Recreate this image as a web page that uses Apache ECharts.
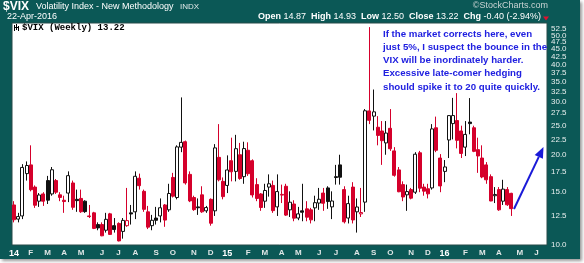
<!DOCTYPE html>
<html><head><meta charset="utf-8">
<script src="https://cdn.jsdelivr.net/npm/echarts@6/dist/echarts.min.js"></script>
<style>
html,body{margin:0;padding:0;background:#fff;}
#wrap{position:relative;width:584px;height:263px;overflow:hidden;background:#fff;}
#bg{position:absolute;left:0;top:0;width:580px;height:259px;background:#0b5856;box-shadow:2px 2px 3px #999;}
#c{position:absolute;left:0;top:0;width:584px;height:263px;}
</style></head><body>
<div id="wrap"><div id="bg"></div><div id="c"></div></div>
<script>
const weeks = [
'2014-01-10','2014-01-17','2014-01-24','2014-01-31','2014-02-07','2014-02-14','2014-02-21','2014-02-28',
'2014-03-07','2014-03-14','2014-03-21','2014-03-28','2014-04-04','2014-04-11','2014-04-18','2014-04-25',
'2014-05-02','2014-05-09','2014-05-16','2014-05-23','2014-05-30','2014-06-06','2014-06-13','2014-06-20','2014-06-27',
'2014-07-04','2014-07-11','2014-07-18','2014-07-25','2014-08-01','2014-08-08','2014-08-15','2014-08-22','2014-08-29',
'2014-09-05','2014-09-12','2014-09-19','2014-09-26','2014-10-03','2014-10-10','2014-10-17','2014-10-24','2014-10-31',
'2014-11-07','2014-11-14','2014-11-21','2014-11-28','2014-12-05','2014-12-12','2014-12-19','2014-12-26',
'2015-01-02','2015-01-09','2015-01-16','2015-01-23','2015-01-30','2015-02-06','2015-02-13','2015-02-20','2015-02-27',
'2015-03-06','2015-03-13','2015-03-20','2015-03-27','2015-04-03','2015-04-10','2015-04-17','2015-04-24',
'2015-05-01','2015-05-08','2015-05-15','2015-05-22','2015-05-29','2015-06-05','2015-06-12','2015-06-19','2015-06-26',
'2015-07-03','2015-07-10','2015-07-17','2015-07-24','2015-07-31','2015-08-07','2015-08-14','2015-08-21','2015-08-28',
'2015-09-04','2015-09-11','2015-09-18','2015-09-25','2015-10-02','2015-10-09','2015-10-16','2015-10-23','2015-10-30',
'2015-11-06','2015-11-13','2015-11-20','2015-11-27','2015-12-04','2015-12-11','2015-12-18','2015-12-25',
'2016-01-01','2016-01-08','2016-01-15','2016-01-22','2016-01-29','2016-02-05','2016-02-12','2016-02-19','2016-02-26',
'2016-03-04','2016-03-11','2016-03-18','2016-03-25','2016-04-01','2016-04-08','2016-04-15','2016-04-22',
'2016-04-29','2016-05-06','2016-05-13','2016-05-20','2016-05-27','2016-06-03','2016-06-10','2016-06-17'
];
const opens = [
13.6,12.2,12.5,17.3,18.5,15.6,14.0,14.8,16.4,14.8,
16.4,14.7,14.1,14.9,16.1,14.2,14.3,14.0,12.5,12.8,
11.7,11.7,11.2,12.7,11.6,11.8,11.1,11.6,12.8,12.9,
16.7,15.1,12.9,11.6,12.3,12.5,13.6,13.1,16.8,14.4,
21.2,22.1,17.2,14.4,13.4,14.7,13.0,14.2,13.0,19.6,
16.3,15.8,19.1,17.6,20.0,16.9,20.7,19.1,15.9,14.8,
14.0,15.6,15.8,13.4,14.75,15.7,13.1,13.7,12.3,13.0,
13.2,13.1,13.3,13.8,14.9,15.5,13.4,16.9,18.5,15.3,
12.3,15.6,12.9,12.7,13.9,28.0,26.9,24.7,24.0,21.9,
24.5,20.6,17.8,15.9,14.7,15.3,15.0,20.3,15.6,15.4,
15.5,24.6,19.5,17.6,22.4,25.4,26.0,24.0,21.2,25.7,
24.6,20.8,19.5,18.5,16.9,14.6,15.3,14.0,15.3,14.87
];
const highs = [
14.0,12.8,18.6,19.0,21.5,15.8,14.9,15.0,17.0,18.2,
16.6,15.0,14.6,17.6,16.4,15.3,15.3,14.1,13.6,12.9,
11.9,11.9,12.8,12.8,12.3,11.9,12.3,15.5,13.6,17.6,
17.3,15.3,13.5,12.6,13.4,14.3,13.7,16.0,17.4,21.5,
31.06,22.3,17.6,14.6,14.3,15.7,13.5,14.3,21.7,25.3,
16.8,19.9,22.8,23.3,21.9,22.1,22.0,19.3,16.7,14.9,
16.0,17.2,16.4,17.2,15.9,16.0,15.1,14.1,13.4,16.0,
14.0,13.3,14.6,15.5,15.5,15.7,15.1,18.5,20.0,15.7,
14.6,16.2,14.3,15.5,28.4,53.29,33.0,26.9,25.9,25.9,
28.4,21.2,18.2,16.3,15.9,15.5,20.4,20.6,16.0,16.0,
25.3,26.8,20.1,19.2,27.1,30.95,32.1,25.0,25.9,30.9,
25.0,22.8,21.5,18.9,17.2,15.6,15.6,16.5,15.6,14.93
];
const lows = [
11.9,11.9,12.2,16.4,15.1,13.3,13.4,13.5,13.7,14.6,
14.8,14.0,12.8,13.9,13.1,12.9,12.8,12.8,12.3,11.3,
11.2,10.7,11.0,10.8,11.0,10.28,10.5,11.5,11.7,12.2,
15.3,12.9,11.3,11.2,11.7,11.9,11.5,12.9,14.4,14.2,
20.4,15.9,13.9,13.0,12.6,12.8,12.8,11.6,12.5,16.3,
14.2,14.9,16.3,16.3,16.5,16.0,17.0,14.4,14.0,13.0,
13.3,14.5,12.8,12.5,13.8,12.5,12.4,12.0,12.1,12.0,
12.0,11.8,12.0,13.1,13.0,13.2,12.2,15.9,15.9,11.8,
11.8,11.8,11.0,12.4,12.9,25.3,24.1,21.5,18.5,20.0,
20.6,16.9,15.0,14.0,13.0,14.2,14.8,15.0,14.6,14.3,
15.3,20.4,15.0,16.2,19.5,22.5,21.0,19.5,19.8,23.4,
20.4,17.4,16.7,16.0,14.0,13.8,13.0,13.6,13.5,12.50
];
const closes = [
12.14,12.44,18.14,18.41,15.29,13.57,14.68,14.00,14.11,17.82,
15.00,14.41,13.96,17.03,13.36,14.06,12.91,12.92,12.44,11.36,
11.40,10.73,12.18,10.85,11.26,10.32,12.08,12.06,12.69,16.95,
15.77,13.15,11.47,12.09,12.09,13.31,12.11,14.85,14.55,21.24,
21.99,16.11,14.03,13.12,13.31,12.90,13.33,11.82,21.08,16.49,
14.50,17.79,17.55,20.95,16.66,20.97,17.29,14.69,14.30,13.34,
15.20,16.00,13.02,15.07,14.67,12.58,13.89,12.29,12.70,12.86,
12.38,12.13,13.84,14.21,13.78,13.96,14.02,16.79,16.83,11.95,
13.74,12.12,13.39,12.83,28.03,26.05,27.80,23.20,22.28,23.62,
20.94,17.08,15.05,14.46,15.07,14.33,20.08,15.47,15.12,14.81,
24.39,20.70,15.74,18.21,27.01,27.02,22.34,20.20,23.38,25.40,
20.53,19.81,16.86,16.50,14.02,14.74,13.10,15.36,13.62,13.22
];
const priorClose = 13.76;
const yTicks = [10,12.5,15,17.5,20,22.5,25,27.5,30,32.5,35,37.5,40,42.5,45,47.5,50,52.5,55];
const monthLetters = ['J','F','M','A','M','J','J','A','S','O','N','D'];
const annotationLines = [
'If the market corrects here, even',
'just 5%, I suspect the bounce in the',
'VIX will be inordinately harder.',
'Excessive late-comer hedging',
'should spike it to 20 quite quickly.'
];

const RED = '#d5002b', BLACK = '#111111';
const FONT = '"Liberation Sans", Arial, sans-serif';
const last = closes.length - 1;

const candleData = weeks.map(function (w, i) {
  if (i > last) return '-';
  const prev = i === 0 ? priorClose : closes[i - 1];
  const edge = closes[i] < prev ? RED : BLACK;
  const fill = closes[i] > opens[i] ? '#ffffff' : edge;
  return {
    value: [opens[i], closes[i], lows[i], highs[i]],
    itemStyle: { color: fill, color0: fill, borderColor: edge, borderColor0: edge, borderWidth: 1 }
  };
});

function monthOf(s) { return parseInt(s.slice(5, 7), 10) - 1; }
function isMonthStart(index, value) {
  if (index === 0) return true;
  return monthOf(weeks[index]) !== monthOf(weeks[index - 1]);
}
function labelFor(value, index) {
  const m = monthOf(value);
  if (m === 0) return '{y|' + value.slice(2, 4) + '}';
  return '{m|' + monthLetters[m] + '}';
}

const chg = closes[last] - closes[last - 1];
const chgPct = chg / closes[last - 1] * 100;

const chart = echarts.init(document.getElementById('c'), null, { renderer: 'canvas' });
const option = {
  animation: false,
  grid: { left: 12, right: 37, top: 23, bottom: 18, show: true, backgroundColor: '#ffffff', borderColor: '#274a49', borderWidth: 1 },
  xAxis: {
    type: 'category', data: weeks, boundaryGap: true,
    axisLine: { show: false }, axisTick: { show: false }, splitLine: { show: false },
    axisLabel: {
      interval: isMonthStart, formatter: labelFor, margin: 4,
      rich: {
        y: { fontSize: 9, fontWeight: 'bold', color: '#ffffff', fontFamily: FONT },
        m: { fontSize: 8, fontWeight: 'bold', color: '#dfe6e6', fontFamily: FONT }
      }
    }
  },
  yAxis: {
    type: 'log', logBase: 10, min: 10, max: 55, position: 'right',
    axisLine: { show: false }, axisTick: { show: false }, splitLine: { show: false },
    axisLabel: {
      customValues: yTicks,
      formatter: function (v) { return Number(v).toFixed(1); },
      color: '#e8eeee', fontSize: 8, fontFamily: FONT, margin: 4
    }
  },
  series: [{
    type: 'candlestick', data: candleData, barWidth: 3.5,
    markLine: {
      silent: true, symbol: ['none', 'none'],
      data: [{ yAxis: closes[last] }],
      lineStyle: { opacity: 0 },
      label: {
        show: true, position: 'end', distance: 2,
        formatter: closes[last].toFixed(2),
        color: '#000', backgroundColor: '#ffffff', borderColor: '#000', borderWidth: 1, borderRadius: 2,
        padding: [1, 1, 0, 1], fontSize: 8, fontWeight: 'bold', fontFamily: FONT
      }
    }
  }],
  graphic: [
    { type: 'text', x: 3, y: 6.5, style: { text: '$VIX', font: 'bold 12px ' + FONT, fill: '#ffffff', verticalAlign: 'middle' } },
    { type: 'text', x: 36, y: 7, style: { text: 'Volatility Index - New Methodology', font: '9px ' + FONT, fill: '#ffffff', verticalAlign: 'middle' } },
    { type: 'text', x: 180, y: 7, style: { text: 'INDX', font: '8px ' + FONT, fill: '#e0e8e8', verticalAlign: 'middle' } },
    { type: 'text', x: 548, y: 6, style: { text: '\u00A9StockCharts.com', font: '9px ' + FONT, fill: '#c9d3d3', align: 'right', verticalAlign: 'middle' } },
    { type: 'text', x: 7, y: 16.5, style: { text: '22-Apr-2016', font: '9px ' + FONT, fill: '#ffffff', verticalAlign: 'middle' } },
    { type: 'text', x: 541, y: 16.5, style: {
        text: '{b|Open} ' + opens[last].toFixed(2) + '  {b|High} ' + highs[last].toFixed(2) + '  {b|Low} ' + lows[last].toFixed(2) +
              '  {b|Close} ' + closes[last].toFixed(2) + '  {b|Chg} ' + chg.toFixed(2) + ' (' + chgPct.toFixed(2) + '%)',
        font: '9px ' + FONT, fill: '#ffffff', align: 'right', verticalAlign: 'middle',
        rich: { b: { font: 'bold 9px ' + FONT, fill: '#ffffff' } } } },
    { type: 'polygon', shape: { points: [[543, 16.5], [549, 16.5], [546, 20.5]] }, style: { fill: '#e0102f' } },
    { type: 'group', x: 14, y: 24, children: [
        { type: 'rect', shape: { x: 0, y: 1, width: 1, height: 6 }, style: { fill: '#000' } },
        { type: 'rect', shape: { x: 2, y: 0, width: 1, height: 6 }, style: { fill: '#000' } },
        { type: 'rect', shape: { x: 4, y: 2, width: 1, height: 5 }, style: { fill: '#000' } },
        { type: 'rect', shape: { x: 1, y: 3, width: 3, height: 1 }, style: { fill: '#000' } }
    ] },
    { type: 'text', x: 22, y: 28, style: { text: '$VIX (Weekly) ' + closes[last].toFixed(2), font: 'bold 9px "Liberation Mono", "DejaVu Sans Mono", monospace', fill: '#000', verticalAlign: 'middle' } },
    { type: 'text', x: 383, y: 27.5, style: { text: annotationLines.join('\n'), font: 'bold 9.7px ' + FONT, fill: '#2020e0', lineHeight: 13.2 } },
    { type: 'line', shape: { x1: 514, y1: 209, x2: 538.8, y2: 156.9 }, style: { stroke: '#1a1ad8', lineWidth: 2 } },
    { type: 'polygon', shape: { points: [[543.5, 147], [542.9, 158.8], [534.7, 155.0]] }, style: { fill: '#1a1ad8' } }
  ]
};
chart.setOption(option);
</script></body></html>
